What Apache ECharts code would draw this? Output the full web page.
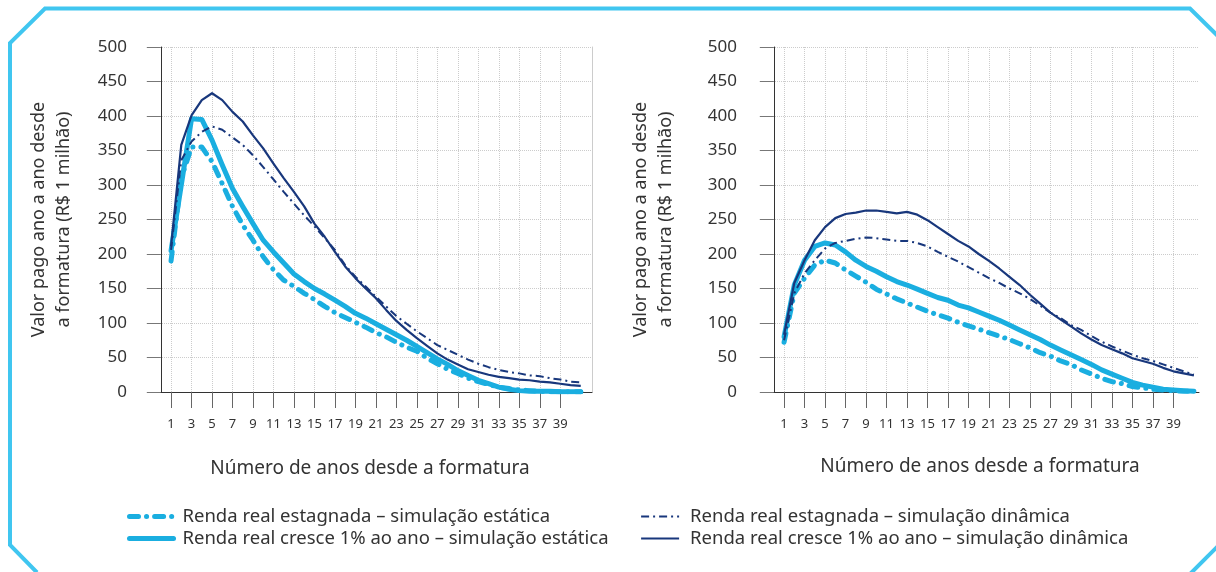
<!DOCTYPE html>
<html><head><meta charset="utf-8">
<script src="https://cdn.jsdelivr.net/npm/echarts@6/dist/echarts.min.js"></script>
<style>html,body{margin:0;padding:0;background:#fff}#c{width:1216px;height:572px}</style>
</head><body><div id="c"></div>
<script>
const years = [1,2,3,4,5,6,7,8,9,10,11,12,13,14,15,16,17,18,19,20,21,22,23,24,25,26,27,28,29,30,31,32,33,34,35,36,37,38,39,40,41];
const xTickValues = [1,3,5,7,9,11,13,15,17,19,21,23,25,27,29,31,33,35,37,39];
const seriesNames = [
  'Renda real estagnada – simulação estática',
  'Renda real cresce 1% ao ano – simulação estática',
  'Renda real estagnada – simulação dinâmica',
  'Renda real cresce 1% ao ano – simulação dinâmica'
];
const yAxisTitle = 'Valor pago ano a ano desde\na formatura (R$ 1 milhão)';
const xAxisTitle = 'Número de anos desde a formatura';

// Left panel
const leftStagStatic = [190,310,355,355,334,302,269,242,220,196,177,162,153,143,134,124,115,108,101,94,86,80,72,65,59,49,41,33,27,20,15,11,7,5,3,2,1,0.5,0.3,0.2,0.2];
const leftGrowStatic = [205,300,396,395,365,329,295,269,244,220,203,187,171,160,150,142,133,124,114,107,99,91,83,75,66,57,48,40,31,24,17,12,7,4,2,1,1,1,0.5,0.5,0.5];
const leftStagDynamic = [206,336,363,377,385,380,369,358,343,326,308,290,273,256,240,223,206,184,167,153,138,124,110,99,88,78,68,61,54,47,41,36,32,29,27,24,23,20,18,15,14];
const leftGrowDynamic = [211,358,401,423,433,423,406,392,372,353,331,310,290,269,244,225,203,182,165,150,136,119,103,90,78,67,56,47,40,33,29,25,22,20,18,17,15,14,12,10,9];
// Right panel
const rightStagStatic = [72,143,165,184,191,187,177,168,159,149,142,135,129,123,117,112,107,101,96,91,86,81,76,70,64,57,52,45,40,32,26,20,15,12,8,6,4,3,2,1,1];
const rightGrowStatic = [80,155,191,211,216,213,203,191,182,175,167,160,155,149,143,137,133,126,122,116,110,104,97,90,83,76,68,61,54,47,40,32,26,20,14,10,7,4,3,2,1];
const rightStagDynamic = [75,143,172,191,208,216,219,222,224,223,221,219,219,216,211,203,196,189,181,173,165,158,150,143,135,125,115,107,97,90,81,73,66,60,54,49,45,40,35,30,25];
const rightGrowDynamic = [83,158,191,220,239,252,258,260,263,263,261,259,261,257,249,239,229,219,211,200,190,179,167,155,141,128,115,105,95,85,76,68,62,56,49,45,41,35,30,27,24];

const LIGHT = '#1AAEE0', NAVY = '#18377C', TXT = '#333';
const FONT = 'Noto Sans';

function pairs(vals){ return years.map((y,i)=>[y, vals[i]]); }
const styles = [
  {color: LIGHT, width: 5, type: [9, 8, 0.1, 8], cap: 'round'},
  {color: LIGHT, width: 5, type: 'solid', cap: 'round'},
  {color: NAVY, width: 2, type: [8, 4, 2, 4], cap: 'butt'},
  {color: NAVY, width: 2.2, type: 'solid', cap: 'butt'}
];
const panels = [
  [leftStagStatic, leftGrowStatic, leftStagDynamic, leftGrowDynamic],
  [rightStagStatic, rightGrowStatic, rightStagDynamic, rightGrowDynamic]
];
const series = [];
panels.forEach((p, gi) => {
  p.forEach((vals, si) => {
    const s = styles[si];
    series.push({
      name: seriesNames[si], type: 'line', xAxisIndex: gi, yAxisIndex: gi,
      data: pairs(vals), symbol: 'none', smooth: false,
      color: s.color,
      lineStyle: {color: s.color, width: s.width, type: s.type, cap: s.cap, join: 'round'},
      z: si >= 2 ? 3 : 2, animation: false
    });
  });
});

function xAxis(gi, max, gap){
  return {
    type: 'value', gridIndex: gi, min: -1.25, max: max,
    name: xAxisTitle, nameLocation: 'middle', nameGap: gap,
    nameTextStyle: {fontFamily: FONT, fontSize: 19, color: TXT},
    axisLine: {show: true, lineStyle: {color: '#333', width: 1}},
    axisTick: {show: true, inside: false, length: 16, customValues: xTickValues, lineStyle: {color: '#666'}},
    axisLabel: {customValues: xTickValues, margin: 26, fontFamily: FONT, fontSize: 13, color: TXT},
    splitLine: {show: true, lineStyle: {type: 'dotted', color: '#ccc'}}
  };
}
function yAxis(gi, gap, margin){
  return {
    type: 'value', gridIndex: gi, min: 0, max: 500, interval: 50,
    name: yAxisTitle, nameLocation: 'middle', nameGap: gap, nameRotate: 90,
    nameTextStyle: {fontFamily: FONT, fontSize: 18, color: TXT, lineHeight: 25, align: 'center'},
    axisLine: {show: true, lineStyle: {color: '#333', width: 1}},
    axisTick: {show: true, length: 14, lineStyle: {color: '#777'}},
    axisLabel: {margin: margin, fontFamily: FONT, fontSize: 17, color: TXT},
    splitLine: {show: true, lineStyle: {type: 'dotted', color: '#ccc'}}
  };
}

const option = {
  backgroundColor: '#fff',
  animation: false,
  grid: [
    {left: 148, top: 47, width: 444, height: 345},
    {left: 761, top: 47, width: 438, height: 345}
  ],
  xAxis: [xAxis(0, 42.1, 67), xAxis(1, 41.5, 65)],
  yAxis: [yAxis(0, 72, 21), yAxis(1, 83, 24),
    {type: 'value', gridIndex: 0, position: 'right', min: 0, max: 500, axisLine: {show: true, lineStyle: {color: '#ccc'}}, axisTick: {show: false}, axisLabel: {show: false}, splitLine: {show: false}}
  ],
  legend: [
    {orient: 'vertical', left: 122, top: 501, itemWidth: 44, itemHeight: 12, itemGap: 1,
     data: [seriesNames[0], seriesNames[1]], itemStyle: {opacity: 0}, lineStyle: {width: 5},
     textStyle: {fontFamily: FONT, fontSize: 18.5, color: TXT, lineHeight: 21, padding: [0,0,0,4]}},
    {orient: 'vertical', left: 635, top: 501, itemWidth: 38, itemHeight: 12, itemGap: 1,
     data: [seriesNames[2], seriesNames[3]], itemStyle: {opacity: 0}, lineStyle: {width: 2.2},
     textStyle: {fontFamily: FONT, fontSize: 18.5, color: TXT, lineHeight: 21, padding: [0,0,0,6]}}
  ],
  graphic: [{
    type: 'polyline', silent: true, z: 100,
    shape: {points: [[1230, 48], [1190, 8.5], [45, 8.5], [10, 43], [10, 545], [37, 572.5]]},
    style: {stroke: '#40C6F0', lineWidth: 4, fill: null}
  },{
    type: 'polyline', silent: true, z: 100,
    shape: {points: [[1190, 574], [1218, 546]]},
    style: {stroke: '#40C6F0', lineWidth: 4, fill: null}
  }],
  series: series
};
const chart = echarts.init(document.getElementById('c'), null, {renderer: 'canvas'});
chart.setOption(option);
</script></body></html>
